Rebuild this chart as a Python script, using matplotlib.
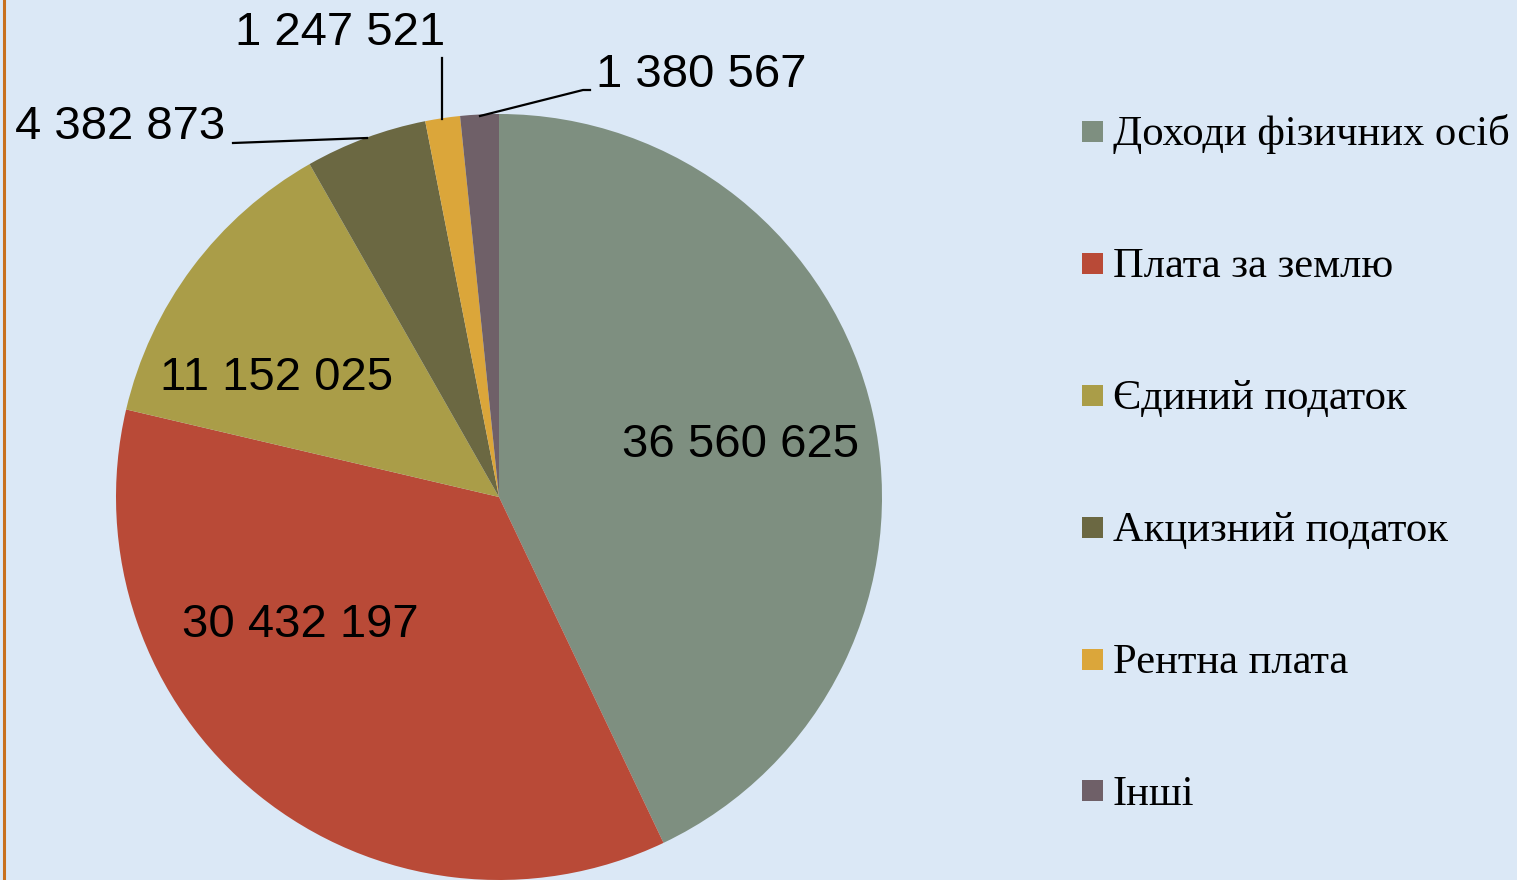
import matplotlib
matplotlib.use("Agg")
import matplotlib.pyplot as plt
from matplotlib.patches import Rectangle

# data
labels = ["Доходи фізичних осіб", "Плата за землю", "Єдиний податок",
          "Акцизний податок", "Рентна плата", "Інші"]
values = [36560625, 30432197, 11152025, 4382873, 1247521, 1380567]
colors = ["#7e8f80", "#b94a37", "#aa9d48", "#6b6842", "#dba63a", "#6f6068"]

W, H = 1517, 880
bg = "#dbe8f6"

fig = plt.figure(figsize=(W / 100, H / 100), dpi=100)
fig.patch.set_facecolor(bg)
ax = fig.add_axes([0, 0, 1, 1])

# pie in pixel coords (y measured from the bottom)
cx, cy, r = 499, H - 497, 383
ax.pie(values, colors=colors, startangle=90, counterclock=False,
       center=(cx, cy), radius=r, frame=True,
       wedgeprops=dict(linewidth=0))
ax.set_xlim(0, W)
ax.set_ylim(0, H)
ax.set_aspect("equal")
ax.axis("off")

def fmt(v):
    return f"{v:,}".replace(",", " ")

# label positions (image coords, y from top)
lab_pos = [(741, 445), (300, 625), (277, 378), (120, 127), (340, 33), (701, 75)]
num_font = dict(family="Liberation Sans", fontsize=34, color="black")
for v, (x, y) in zip(values, lab_pos):
    ax.text(x, H - y, fmt(v), ha="center", va="center", **num_font)

# leader lines
leaders = [
    ([233, 367], [143, 138]),
    ([442, 442], [58, 119]),
    ([480, 583, 590], [116, 90, 90]),
]
for xs, ys in leaders:
    ax.plot(xs, [H - y for y in ys], color="black", lw=1.6)

# legend
for i, (lab, c) in enumerate(zip(labels, colors)):
    yc = 131 + 132 * i
    ax.add_patch(Rectangle((1082, H - yc - 10.5), 21, 21, facecolor=c, edgecolor="none"))
    ax.text(1113, H - (145 + 132 * i), lab, ha="left", va="baseline",
            family="Liberation Serif", fontsize=30.7, color="black")

# orange frame line on the left
ax.plot([4, 4], [0, H], color="#c8701e", lw=2.2)

fig.savefig("out.png", dpi=100, facecolor=bg)
